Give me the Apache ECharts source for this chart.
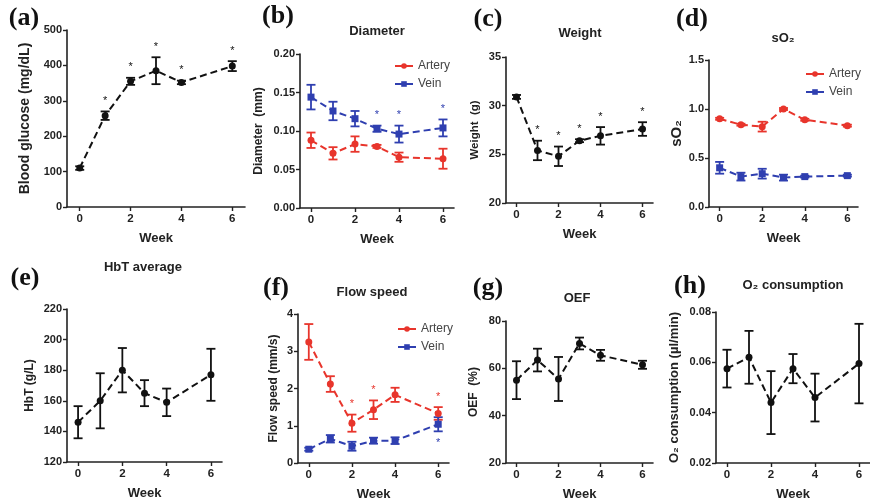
<!DOCTYPE html>
<html><head><meta charset="utf-8">
<script src="https://cdn.jsdelivr.net/npm/echarts@6/dist/echarts.min.js"></script>
<style>html,body{margin:0;padding:0;background:#fff}#c{width:870px;height:502px}</style>
</head><body><div id="c"></div>
<script>
// ---------- data ----------
const weeks = [0, 1, 2, 3, 4, 6];
const xTicks = [0, 2, 4, 6];

const glucoseMean = [110, 258, 355, 385, 352, 398];
const glucoseErr  = [5, 12, 10, 38, 5, 14];
const glucoseStars = [1, 2, 3, 4, 6];

const diamArteryMean = [0.088, 0.071, 0.083, 0.080, 0.066, 0.064];
const diamArteryErr  = [0.010, 0.008, 0.010, 0.002, 0.006, 0.013];
const diamVeinMean   = [0.144, 0.126, 0.116, 0.103, 0.096, 0.104];
const diamVeinErr    = [0.016, 0.012, 0.010, 0.004, 0.011, 0.011];
const diamVeinStars  = [3, 4, 6];

const weightMean = [30.9, 25.4, 24.8, 26.4, 26.9, 27.6];
const weightErr  = [0.2, 1.0, 1.0, 0.15, 0.9, 0.7];
const weightStars = [1, 2, 3, 4, 6];

const so2ArteryMean = [0.90, 0.84, 0.82, 1.00, 0.89, 0.83];
const so2ArteryErr  = [0.01, 0.01, 0.05, 0.01, 0.01, 0.01];
const so2VeinMean   = [0.40, 0.31, 0.34, 0.30, 0.31, 0.32];
const so2VeinErr    = [0.06, 0.04, 0.05, 0.03, 0.01, 0.01];

const hbtMean = [146, 160, 180, 165, 159, 177];
const hbtErr  = [10.5, 18, 14.5, 8.5, 9, 17];

const flowArteryMean = [3.25, 2.12, 1.07, 1.43, 1.83, 1.33];
const flowArteryErr  = [0.48, 0.21, 0.23, 0.25, 0.19, 0.17];
const flowVeinMean   = [0.37, 0.65, 0.45, 0.60, 0.60, 1.04];
const flowVeinErr    = [0.04, 0.10, 0.12, 0.08, 0.09, 0.19];
const flowArteryStars = [2, 3, 6];
const flowVeinStars   = [6];

const oefMean = [55, 63.5, 55.5, 70.5, 65.5, 61.5];
const oefErr  = [8, 4.8, 9.3, 2.5, 2.3, 1.7];

const o2Mean = [0.0575, 0.062, 0.044, 0.0575, 0.046, 0.0595];
const o2Err  = [0.0075, 0.0105, 0.0125, 0.0058, 0.0095, 0.0158];

// ---------- styling / layout ----------
const RED = '#e8352c', BLUE = '#2f3fb0', BLACK = '#111';
const FONT = 'Liberation Sans, Arial, sans-serif';
const SERIF = 'Liberation Serif, Times New Roman, serif';

const panels = [
  {letter:'(a)', lx:24, ly:18, title:'', tx:0, ty:0, grid:{left:67, top:30, width:178, height:177}, ymin:0, ymax:500, yint:100, dec:0, yname:'Blood glucose (mg/dL)', ygap:35, yfs:14},
  {letter:'(b)', lx:278, ly:16, title:'Diameter', tx:377, ty:31, grid:{left:300, top:54, width:154, height:154}, ymin:0, ymax:0.20, yint:0.05, dec:2, yname:'Diameter  (mm)', ygap:35, yfs:12},
  {letter:'(c)', lx:488, ly:19, title:'Weight', tx:580, ty:33, grid:{left:506, top:57, width:147, height:146}, ymin:20, ymax:35, yint:5, dec:0, yname:'Weight  (g)', ygap:25, yfs:11.5},
  {letter:'(d)', lx:692, ly:19, title:'sO\u2082', tx:783, ty:38, grid:{left:709, top:60, width:149, height:147}, ymin:0, ymax:1.5, yint:0.5, dec:1, yname:'sO\u2082', ygap:24, yfs:15},
  {letter:'(e)', lx:25, ly:278, title:'HbT average', tx:143, ty:267, grid:{left:67, top:309, width:155, height:153}, ymin:120, ymax:220, yint:20, dec:0, yname:'HbT (g/L)', ygap:31, yfs:12},
  {letter:'(f)', lx:276, ly:288, title:'Flow speed', tx:372, ty:292, grid:{left:298, top:314, width:151, height:150}, ymin:0, ymax:4, yint:1, dec:0, yname:'Flow speed (mm/s)', ygap:18, yfs:12},
  {letter:'(g)', lx:488, ly:288, title:'OEF', tx:577, ty:298, grid:{left:506, top:321, width:147, height:146}, ymin:20, ymax:80, yint:20, dec:0, yname:'OEF  (%)', ygap:26, yfs:12},
  {letter:'(h)', lx:690, ly:286, title:'O\u2082 consumption', tx:793, ty:285, grid:{left:716, top:312, width:154, height:154}, ymin:0.02, ymax:0.08, yint:0.02, dec:2, yname:'O\u2082 consumption (\u00b5l/min)', ygap:35, yfs:13}
];

const grids = [], xAxes = [], yAxes = [], series = [], graphics = [];
panels.forEach((p, i) => {
  grids.push(Object.assign({containLabel:false}, p.grid));
  xAxes.push({
    type:'value', gridIndex:i, min:-0.5, max:6.5,
    name:'Week', nameLocation:'middle', nameGap:25,
    nameTextStyle:{fontFamily:FONT, fontWeight:'bold', fontSize:13, color:'#222'},
    axisLine:{show:true, onZero:false, lineStyle:{color:'#222', width:1.6}},
    axisTick:{show:true, length:4, customValues:xTicks, lineStyle:{color:'#222', width:1.4}},
    axisLabel:{customValues:xTicks, margin:6, fontFamily:FONT, fontWeight:'bold', fontSize:11.5, color:'#222'},
    splitLine:{show:false}
  });
  yAxes.push({
    type:'value', gridIndex:i, min:p.ymin, max:p.ymax, interval:p.yint,
    name:p.yname, nameLocation:'middle', nameGap:p.ygap, nameRotate:90,
    nameTextStyle:{fontFamily:FONT, fontWeight:'bold', fontSize:p.yfs, color:'#222'},
    axisLine:{show:true, onZero:false, lineStyle:{color:'#222', width:1.6}},
    axisTick:{show:true, length:4, lineStyle:{color:'#222', width:1.4}},
    axisLabel:{margin:5, fontFamily:FONT, fontWeight:'bold', fontSize:11, color:'#222',
      formatter: v => Number(v).toFixed(p.dec)},
    splitLine:{show:false}
  });
  graphics.push({type:'text', x:p.lx, y:p.ly, style:{text:p.letter, font:'bold 26px ' + SERIF, fill:'#111', textAlign:'center', textVerticalAlign:'middle'}});
  if (p.title) graphics.push({type:'text', x:p.tx, y:p.ty, style:{text:p.title, font:'bold 13px ' + FONT, fill:'#222', textAlign:'center', textVerticalAlign:'middle'}});
});

function addSeries(idx, name, mean, err, color, symbol, stars, starBelow) {
  const errData = weeks.map((w, k) => [w, mean[k] - err[k], mean[k] + err[k]]);
  series.push({
    type:'custom', name: name + '_err', xAxisIndex:idx, yAxisIndex:idx, z:2, silent:true,
    data: errData,
    renderItem: (params, api) => {
      const x = api.value(0);
      const lo = api.coord([x, api.value(1)]);
      const hi = api.coord([x, api.value(2)]);
      const hw = 4.5;
      const st = {stroke:color, lineWidth:1.8};
      return {type:'group', children:[
        {type:'line', shape:{x1:lo[0], y1:lo[1], x2:hi[0], y2:hi[1]}, style:st},
        {type:'line', shape:{x1:lo[0]-hw, y1:lo[1], x2:lo[0]+hw, y2:lo[1]}, style:st},
        {type:'line', shape:{x1:hi[0]-hw, y1:hi[1], x2:hi[0]+hw, y2:hi[1]}, style:st}
      ]};
    }
  });
  series.push({
    type:'line', name:name, xAxisIndex:idx, yAxisIndex:idx, z:3,
    data: weeks.map((w, k) => [w, mean[k]]),
    symbol:symbol, symbolSize:7, showSymbol:true,
    lineStyle:{color:color, width:2, type:[7, 4]},
    itemStyle:{color:color},
    emphasis:{disabled:true}
  });
  if (stars && stars.length) {
    const sData = stars.map(w => { const k = weeks.indexOf(w); return [w, mean[k] + err[k], mean[k] - err[k]]; });
    series.push({
      type:'custom', name: name + '_star', xAxisIndex:idx, yAxisIndex:idx, z:4, silent:true,
      data: sData,
      renderItem: (params, api) => {
        const x = api.value(0);
        const p = starBelow ? api.coord([x, api.value(2)]) : api.coord([x, api.value(1)]);
        return {type:'text', x:p[0], y: starBelow ? p[1] + 6 : p[1] - 5,
          style:{text:'*', font:'11px ' + FONT, fill:color, textAlign:'center', textVerticalAlign: starBelow ? 'top' : 'bottom'}};
      }
    });
  }
}

addSeries(0, 'Glucose', glucoseMean, glucoseErr, BLACK, 'circle', glucoseStars);
addSeries(1, 'Artery', diamArteryMean, diamArteryErr, RED, 'circle');
addSeries(1, 'Vein', diamVeinMean, diamVeinErr, BLUE, 'rect', diamVeinStars);
addSeries(2, 'Weight', weightMean, weightErr, BLACK, 'circle', weightStars);
addSeries(3, 'Artery', so2ArteryMean, so2ArteryErr, RED, 'circle');
addSeries(3, 'Vein', so2VeinMean, so2VeinErr, BLUE, 'rect');
addSeries(4, 'HbT', hbtMean, hbtErr, BLACK, 'circle');
addSeries(5, 'Artery', flowArteryMean, flowArteryErr, RED, 'circle', flowArteryStars);
addSeries(5, 'Vein', flowVeinMean, flowVeinErr, BLUE, 'rect', flowVeinStars, true);
addSeries(6, 'OEF', oefMean, oefErr, BLACK, 'circle');
addSeries(7, 'O2', o2Mean, o2Err, BLACK, 'circle');

const legendBase = {orient:'vertical', data:['Artery','Vein'], itemWidth:18, itemHeight:7, itemGap:6,
  textStyle:{fontFamily:FONT, fontSize:12, color:'#444'}, lineStyle:{type:'solid', width:2}, selectedMode:false};
const legends = [
  Object.assign({left:389, top:55}, legendBase),
  Object.assign({left:800, top:63}, legendBase),
  Object.assign({left:392, top:318}, legendBase)
];

const chart = echarts.init(document.getElementById('c'), null, {renderer:'canvas'});
chart.setOption({
  animation:false,
  backgroundColor:'#fff',
  grid:grids, xAxis:xAxes, yAxis:yAxes, series:series, legend:legends,
  graphic:graphics
});
</script></body></html>
